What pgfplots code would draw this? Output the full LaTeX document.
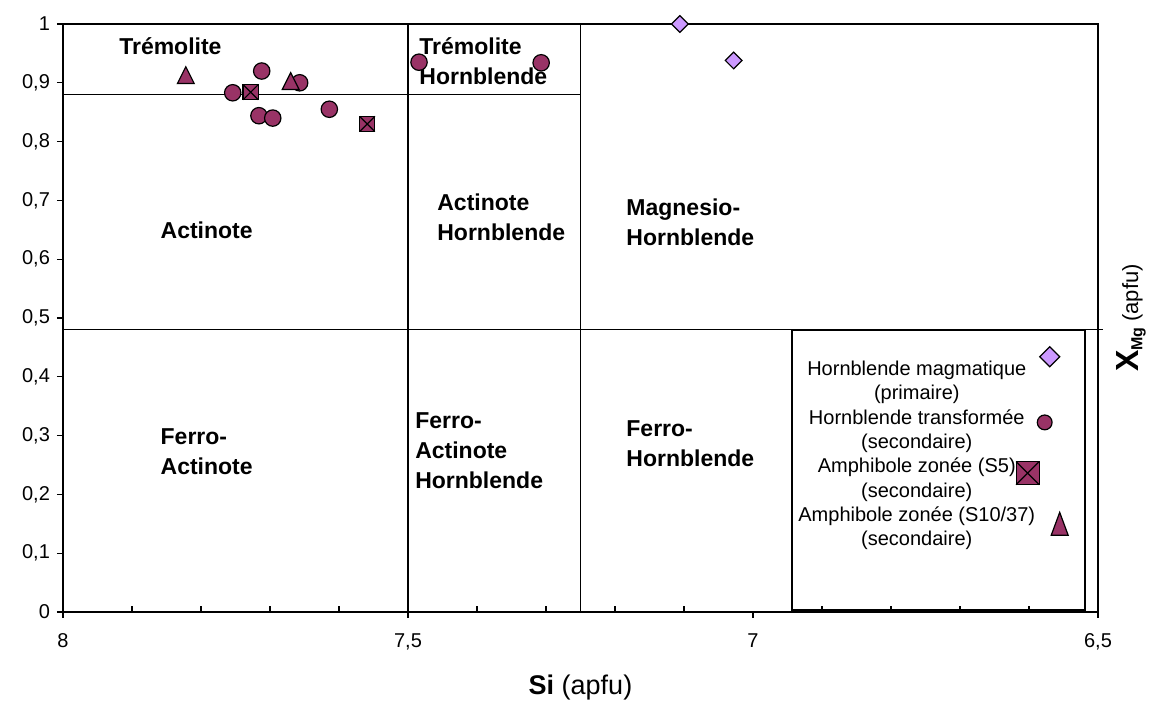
\documentclass[border=0pt]{standalone}
\usepackage{pgfplots}
\pgfplotsset{compat=1.18}
\usepackage{fontspec}
\setmainfont{Liberation Sans}
\definecolor{plum}{RGB}{153,51,102}
\definecolor{lilac}{RGB}{204,153,255}
\pgfdeclareplotmark{tri}{%
  \pgfpathmoveto{\pgfqpoint{0pt}{\pgfplotmarksize}}%
  \pgfpathlineto{\pgfqpoint{\pgfplotmarksize}{-\pgfplotmarksize}}%
  \pgfpathlineto{\pgfqpoint{-\pgfplotmarksize}{-\pgfplotmarksize}}%
  \pgfpathclose
  \pgfusepathqfillstroke}
\pgfdeclareplotmark{dia}{%
  \pgfpathmoveto{\pgfqpoint{0pt}{\pgfplotmarksize}}%
  \pgfpathlineto{\pgfqpoint{\pgfplotmarksize}{0pt}}%
  \pgfpathlineto{\pgfqpoint{0pt}{-\pgfplotmarksize}}%
  \pgfpathlineto{\pgfqpoint{-\pgfplotmarksize}{0pt}}%
  \pgfpathclose
  \pgfusepathqfillstroke}
\pgfdeclareplotmark{boxx}{%
  \pgfpathrectangle{\pgfqpoint{-\pgfplotmarksize}{-\pgfplotmarksize}}{\pgfqpoint{2\pgfplotmarksize}{2\pgfplotmarksize}}%
  \pgfusepathqfillstroke
  \pgfpathmoveto{\pgfqpoint{-\pgfplotmarksize}{-\pgfplotmarksize}}%
  \pgfpathlineto{\pgfqpoint{\pgfplotmarksize}{\pgfplotmarksize}}%
  \pgfpathmoveto{\pgfqpoint{-\pgfplotmarksize}{\pgfplotmarksize}}%
  \pgfpathlineto{\pgfqpoint{\pgfplotmarksize}{-\pgfplotmarksize}}%
  \pgfusepathqstroke}
\pgfplotsset{
  legdia/.style={legend image code/.code={\path[draw=none,fill=none] (0pt,0pt) -- (18pt,0pt); \draw[##1, overlay, mark size=5pt] plot coordinates {(5.25pt,12.5pt)};}},
  legcirc/.style={legend image code/.code={\path[draw=none,fill=none] (0pt,0pt) -- (18pt,0pt); \draw[##1, overlay, mark size=3.7pt] plot coordinates {(2.75pt,4pt)};}},
  legbox/.style={legend image code/.code={\path[draw=none,fill=none] (0pt,0pt) -- (18pt,0pt); \draw[##1, overlay, mark size=5.8pt, line width=1pt] plot coordinates {(-5.75pt,3pt)};}},
  legtri/.style={legend image code/.code={\path[draw=none,fill=none] (0pt,0pt) -- (18pt,0pt); \draw[##1, overlay, mark size=4.25pt, mark options={fill=plum, draw=black, line width=0.6pt, yscale=1.35}] plot coordinates {(10.25pt,2pt)};}},
}

\pgfplotstableread{
x y
7.106 1.000
7.028 0.938
}\primaire
\pgfplotstableread{
x y
7.754 0.883
7.712 0.920
7.716 0.844
7.696 0.840
7.657 0.900
7.614 0.855
7.484 0.935
7.307 0.934
}\transf
\pgfplotstableread{
x y
7.728 0.884
7.559 0.830
}\sfive
\pgfplotstableread{
x y
7.822 0.913
7.670 0.903
}\sten

\begin{document}
\begin{tikzpicture}
\begin{axis}[
  scale only axis, width=517.5pt, height=294pt,
  x dir=reverse, xmin=6.5, xmax=8, ymin=0, ymax=1,
  clip=false,
  axis line style={line width=0.7pt},
  tick style={black, line width=0.6pt},
  major tick length=3pt,
  tick align=outside,
  tick pos=left,
  xtick={6.5,7,7.5,8},
  extra x ticks={6.6,6.7,6.8,6.9,7.1,7.2,7.3,7.4,7.6,7.7,7.8,7.9},
  extra x tick labels={},
  extra x tick style={tick align=inside},
  ytick={0,0.1,0.2,0.3,0.4,0.5,0.6,0.7,0.8,0.9,1},
  /pgf/number format/use comma,
  /pgf/number format/1000 sep={},
  /pgf/number format/assume math mode=true,
  tick label style={font=\fontsize{10}{12}\selectfont},
  xticklabel style={anchor=base, yshift=-15pt},
  xlabel={\textbf{Si} (apfu)},
  xlabel style={at={([yshift=-41.5pt]axis description cs:0.5,0)}, anchor=base, font=\fontsize{13.5}{15}\selectfont},
  ylabel={{\fontsize{16}{16}\selectfont\textbf{X}}{\raisebox{-0.4ex}{\fontsize{8}{8}\selectfont\textbf{Mg}}}\ {\fontsize{11}{11}\selectfont(apfu)}},
  ylabel style={at={([xshift=16.5pt]axis description cs:1,0.5)}, anchor=center, rotate=0},
  legend style={at={(axis cs:6.940,0.434)}, anchor=north west, draw=none, fill=none,
    legend plot pos=right, row sep=-0.75pt, column sep=0pt, inner sep=0pt, outer sep=0pt,
    font=\fontsize{10}{12.25}\selectfont,
    cells={anchor=center, align=center, inner sep=0pt}},
]
% diagram boundaries
\addplot[black, line width=0.7pt, forget plot] coordinates {(7.5,0) (7.5,1)};
\addplot[black, line width=0.7pt, forget plot] coordinates {(7.25,0) (7.25,1)};
\addplot[black, line width=0.7pt, forget plot] coordinates {(8,0.88) (7.25,0.88)};
\addplot[black, line width=0.7pt, forget plot] coordinates {(8,0.48) (6.493,0.48)};
\addplot[black, line width=0.9pt, forget plot] coordinates {(6.944,0.48) (6.519,0.48) (6.519,0.0034) (6.944,0.0034) (6.944,0.48)};

\addplot[only marks, mark=dia, mark size=4.17pt, mark options={fill=lilac, draw=black, line width=0.6pt}, legdia]
  table[x=x, y=y] {\primaire};
\addlegendentry{Hornblende magmatique\\(primaire)}
\addplot[only marks, mark=*, mark size=4.1pt, mark options={fill=plum, draw=black, line width=0.6pt}, legcirc]
  table[x=x, y=y] {\transf};
\addlegendentry{Hornblende transformée\\(secondaire)}
\addplot[only marks, mark=boxx, mark size=3.8pt, mark options={fill=plum, draw=black, line width=0.6pt}, legbox]
  table[x=x, y=y] {\sfive};
\addlegendentry{Amphibole zonée (S5)\\(secondaire)}
\addplot[only marks, mark=tri, mark size=4.2pt, mark options={fill=plum, draw=black, line width=0.6pt}, legtri]
  table[x=x, y=y] {\sten};
\addlegendentry{Amphibole zonée (S10/37)\\(secondaire)}

% region names
\begin{scope}[every node/.style={anchor=west, align=left, inner sep=0pt, font=\bfseries\fontsize{11.5}{15}\selectfont}]
\node at (axis cs:7.919,0.963) {Trémolite};
\node at (axis cs:7.484,0.937) {Trémolite\\Hornblende};
\node at (axis cs:7.859,0.650) {Actinote};
\node at (axis cs:7.458,0.671) {Actinote\\Hornblende};
\node at (axis cs:7.184,0.662) {Magnesio-\\Hornblende};
\node at (axis cs:7.859,0.272) {Ferro-\\Actinote};
\node at (axis cs:7.490,0.275) {Ferro-\\Actinote\\Hornblende};
\node at (axis cs:7.184,0.286) {Ferro-\\Hornblende};
\end{scope}
\coordinate (bl) at (rel axis cs:0,0);
\coordinate (tr) at (rel axis cs:1,1);
\end{axis}
\pgfresetboundingbox
\path[use as bounding box] ([shift={(-31.5pt,-46pt)}]bl) rectangle ([shift={(27.5pt,12pt)}]tr);
\end{tikzpicture}
\end{document}
